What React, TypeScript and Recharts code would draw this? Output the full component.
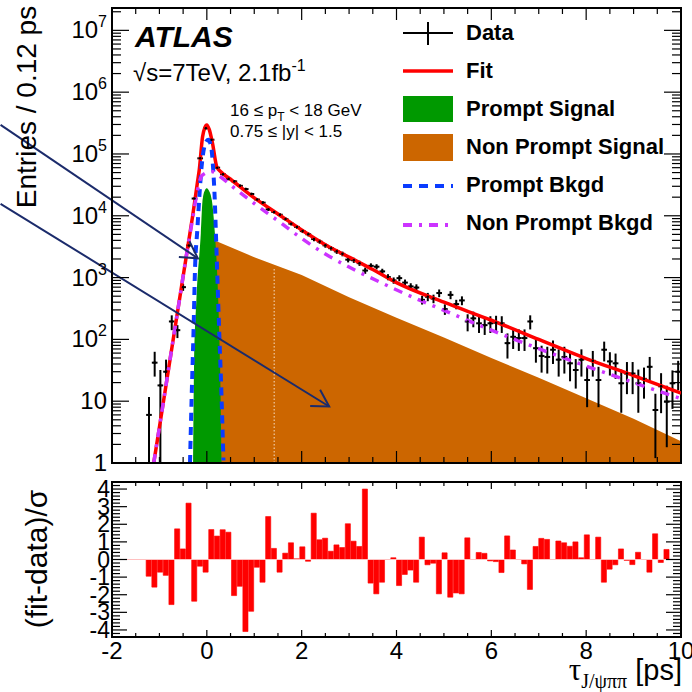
import React from "react";
import {
  ComposedChart,
  BarChart,
  Bar,
  Area,
  Line,
  Scatter,
  ErrorBar,
  XAxis,
  YAxis,
  ReferenceLine,
  ReferenceArea,
} from "recharts";

const FONT = "'Liberation Sans', Arial, Helvetica, sans-serif";
const SERIF = "'Liberation Serif', 'Times New Roman', serif";
const RED = "#ff0000";
const GREEN = "#009900";
const ORANGE = "#cc6600";
const BLUE = "#0a3cff";
const MAGENTA = "#cc33ff";
const NAVY = "#1b2b6b";

// layout
const W = 692;
const LEFT = 112;
const RIGHT = 11;
const PLOT_W = W - LEFT - RIGHT;
const TOP_H = 480;
const TOP_MARGIN = 8;
const TOP_XAXIS = 17;
const TOP_PLOT_H = TOP_H - TOP_MARGIN - TOP_XAXIS;
const BOT_TOP = 470;
const BOT_H = 222;
const BOT_MARGIN = 12;
const BOT_XAXIS = 55;
const BOT_PLOT_H = BOT_H - BOT_MARGIN - BOT_XAXIS;

// binning of the data histogram (0.12 ps bins)
const BIN_FIRST = -1.22;
const BIN_WIDTH = 0.12;

// entries per bin, from the first filled bin (-1.22 ps) to the last (9.94 ps)
const DATA_Y = [
  6, 42, 18, 30, 195, 141, 700,
  3300, 19000, 85000, 260000, 170000, 60000, 47000, 39500, 36000, 30500,
  27000, 22500, 18300, 16300, 12700, 11500, 10400, 8850, 7450, 6600,
  5650, 5020, 4200, 3820, 3320, 2990, 2650, 2420, 1950, 1910,
  1710, 1300, 1550, 1500, 1260, 1020, 900, 980, 830, 720,
  690, 436, 490, 457, 562, 309, 525, 372, 427, 195,
  219, 182, 170, 182, 186, 182, 87, 110, 105, 105,
  195, 72, 54, 52, 68, 47, 52, 41, 32, 47,
  22, 45, 22, 68, 44, 41, 19.5, 28, 28, 19.5,
  23, 36, 7.2, 17.4, 9.8, 19.5, 30,
];

// vertical error per bin ([low, high] where asymmetric)
const DATA_ERR: (number | [number, number])[] = [
  [5, 5.7], [17, 21], [17, 14], [10.5, 17], [54, 50], [36, 29], 90,
  250, 900, 3000, 6000, 5000, 2500, 2000, 1800, 1600, 1400,
  1300, 1100, 900, 800, 700, 650, 600, 550, 500, 450,
  400, 380, 330, 300, 280, 250, 230, 210, 190, 180,
  165, 150, 150, 145, 130, 115, 105, 110, 100, 90,
  88, 70, 75, 72, 80, 60, 78, 65, 70, 60,
  62, 55, 52, 55, 55, 55, 38, 40, 40, 40,
  50, 30, 25, 24, 28, 22, 24, 20, 16, 22,
  14, 20, 14, 24, 18, 18, 13, 15, 15, 13,
  12, 16, 6, 11, 8, 12, 15,
];

// (fit-data)/sigma per bin, same bins as DATA_Y
const RESIDUALS = [
  -0.95, -1.57, -0.72, -0.9, -2.56, 1.74, 0.6,
  3.2, -2.37, -0.38, -0.72, 1.7, 1.33, 1.69, 1.55, -2.05, -1.52,
  -4.09, -2.94, -0.44, -1.29, 2.44, 0.63, -0.72, 0.36, 0.95, 0.04,
  0.72, -0.1, 2.63, 1.12, 1.21, 0.47, 0.83, 0.68, 2.03, 1.04,
  0.74, 4.0, -1.34, -1.95, -1.29, 0, 0.1, -1.48, -0.85, -0.6,
  -1.29, 1.27, -0.3, -0.21, -1.95, 0.38, -2.14, -1.9, -1.95, 1.23,
  0, 0.4, 0.35, -0.08, -0.12, -0.74, 1.34, 0.54, 0, -0.25,
  -1.7, 0.74, 1.2, 1.14, 0, 1.05, 0.95, 0.75, 1.0, 0.1,
  1.4, 0, 1.27, -1.29, -0.55, -0.3, 0.6, -0.05, -0.29, 0.41,
  0, -0.72, 1.46, -0.17, 0.57, 0, 0,
];

// curves [tau, entries]
const FIT_CURVE = [
  [-1.12, 1], [-1.0, 3.8], [-0.8, 36], [-0.6, 340], [-0.4, 3200], [-0.3, 9800],
  [-0.2, 34000], [-0.16, 55000], [-0.09, 190000], [-0.04, 270000], [0.0, 295000],
  [0.05, 250000], [0.12, 148000], [0.21, 62000], [0.3, 51000], [0.5, 39000],
  [1.0, 19500], [1.5, 10700], [2.0, 5900], [2.5, 3400], [3.0, 2140], [3.5, 1350],
  [4.0, 830], [5.0, 400], [6.0, 204], [7.0, 100], [8.0, 49], [9.0, 26], [10.0, 13.5],
];
const PROMPT_SIGNAL = [
  [-0.29, 1], [-0.27, 36], [-0.22, 440], [-0.127, 5200], [-0.09, 18000], [-0.04, 26000],
  [0.0, 28000], [0.04, 26000], [0.105, 18000], [0.17, 5200], [0.24, 440], [0.28, 36], [0.31, 1],
];
const NONPROMPT_SIGNAL = [
  [-0.05, 1], [0.0, 300], [0.08, 2500], [0.155, 4000], [1.0, 2140], [2.0, 1100],
  [3.0, 480], [4.0, 224], [5.0, 107], [6.0, 50], [7.0, 24], [8.0, 11.2], [9.0, 5.2], [10.0, 2.24],
];
const PROMPT_BKGD = [
  [-0.355, 1], [-0.32, 11.7], [-0.28, 141], [-0.25, 1320], [-0.2, 6000], [-0.15, 25000],
  [-0.11, 63000], [-0.05, 132000], [0.03, 170000], [0.09, 132000], [0.13, 63000],
  [0.17, 16000], [0.19, 5600], [0.26, 141], [0.31, 11.7], [0.35, 1.1],
];
const NONPROMPT_BKGD = [
  [-1.12, 1], [-1.0, 3.8], [-0.8, 36], [-0.6, 340], [-0.4, 3200], [-0.3, 8900],
  [-0.2, 25000], [-0.1, 45000], [0.1, 52000], [0.3, 42000], [0.58, 28000], [1.0, 15800],
  [1.5, 8300], [2.0, 4300], [2.5, 2400], [3.0, 1480], [3.7, 810], [4.5, 427], [5.0, 295],
  [6.0, 141], [7.0, 71], [8.0, 37], [9.0, 20], [10.0, 11],
];

// annotation arrows, [tau, entries] of tail and tip
const ARROWS = [
  { from: [-4.35, 295000], to: [-0.19, 2050] },
  { from: [-4.35, 15600], to: [2.58, 8.2] },
];

// axes
const X_DOMAIN = [-2, 10];
const X_TICKS = [
  -2, -1.5, -1, -0.5, 0, 0.5, 1, 1.5, 2, 2.5, 3, 3.5, 4, 4.5, 5, 5.5, 6, 6.5, 7, 7.5, 8, 8.5, 9, 9.5, 10,
];
const X_MAJOR = [-2, 0, 2, 4, 6, 8, 10];
const Y_DOMAIN = [1, 2.3e7];
const DECADES = [1, 10, 100, 1e3, 1e4, 1e5, 1e6, 1e7];
const MANTISSAS = [2, 3, 4, 5, 6, 7, 8, 9];
const Y_TICKS = DECADES.flatMap((d) => [d, ...MANTISSAS.map((m) => m * d)]).filter((v) => v <= Y_DOMAIN[1]);
const RES_DOMAIN = [-4.4, 4.4];
const RES_TICKS = Array.from({ length: 45 }, (_, i) => +(-4.4 + i * 0.2).toFixed(1));

const LEGEND = [
  { label: "Data", kind: "data" },
  { label: "Fit", kind: "fit" },
  { label: "Prompt Signal", kind: "green" },
  { label: "Non Prompt Signal", kind: "orange" },
  { label: "Prompt Bkgd", kind: "blue" },
  { label: "Non Prompt Bkgd", kind: "magenta" },
];

const dataRows = DATA_Y.map((y, i) => ({
  x: +(BIN_FIRST + i * BIN_WIDTH).toFixed(2),
  y,
  ey: DATA_ERR[i],
  ex: BIN_WIDTH / 2,
}));
const resRows = RESIDUALS.map((r, i) => ({ x: +(BIN_FIRST + i * BIN_WIDTH).toFixed(2), r }));
const rows = (pts: number[][]) => pts.map(([x, y]) => ({ x, y }));

const TopXTick = (props: any) => {
  const { x, y, payload } = props;
  const len = X_MAJOR.includes(payload.value) ? 12 : 6;
  return (
    <g stroke="#000" strokeWidth={1.2}>
      <line x1={x} x2={x} y1={y} y2={y - len} />
      <line x1={x} x2={x} y1={y - TOP_PLOT_H} y2={y - TOP_PLOT_H + len} />
    </g>
  );
};

const LogYTick = (props: any) => {
  const { x, y, payload } = props;
  const v = payload.value;
  const major = DECADES.includes(v);
  const len = major ? 17 : 9;
  const exp = Math.round(Math.log10(v));
  return (
    <g>
      <line x1={x} x2={x + len} y1={y} y2={y} stroke="#000" strokeWidth={1.2} />
      <line x1={x + PLOT_W} x2={x + PLOT_W - len} y1={y} y2={y} stroke="#000" strokeWidth={1.2} />
      {major && (
        <text x={x - 5} y={y + 8} textAnchor="end" fontSize={24} fontFamily={FONT} fill="#000">
          {exp === 0 ? "1" : exp === 1 ? "10" : (
            <>
              10
              <tspan dy={-11} fontSize={16}>{exp}</tspan>
            </>
          )}
        </text>
      )}
    </g>
  );
};

const BotXTick = (props: any) => {
  const { x, y, payload } = props;
  const major = X_MAJOR.includes(payload.value);
  const len = major ? 7 : 4;
  return (
    <g>
      <line x1={x} x2={x} y1={y} y2={y - len} stroke="#000" strokeWidth={1.2} />
      <line x1={x} x2={x} y1={y - BOT_PLOT_H} y2={y - BOT_PLOT_H + len} stroke="#000" strokeWidth={1.2} />
      {major && (
        <text x={x} y={y + 22} textAnchor="middle" fontSize={24} fontFamily={FONT} fill="#000">
          {payload.value}
        </text>
      )}
    </g>
  );
};

const ResYTick = (props: any) => {
  const { x, y, payload } = props;
  const major = Number.isInteger(payload.value);
  const len = major ? 15 : 8;
  return (
    <g>
      <line x1={x} x2={x + len} y1={y} y2={y} stroke="#000" strokeWidth={1.2} />
      <line x1={x + PLOT_W} x2={x + PLOT_W - len} y1={y} y2={y} stroke="#000" strokeWidth={1.2} />
      {major && (
        <text x={x - 2} y={y + 8} textAnchor="end" fontSize={23} fontFamily={FONT} fill="#000">
          {payload.value}
        </text>
      )}
    </g>
  );
};

const ArrowShape = (props: any) => {
  const { x1, y1, x2, y2 } = props;
  const a = Math.atan2(y2 - y1, x2 - x1);
  const L = 19;
  const s = 0.52;
  const p1 = `${x2 - L * Math.cos(a - s)},${y2 - L * Math.sin(a - s)}`;
  const p2 = `${x2 - L * Math.cos(a + s)},${y2 - L * Math.sin(a + s)}`;
  return (
    <g stroke={NAVY} strokeWidth={2} fill="none">
      <line x1={x1} y1={y1} x2={x2} y2={y2} />
      <polyline points={`${p1} ${x2},${y2} ${p2}`} />
    </g>
  );
};

const dotShape = (p: any) => <circle cx={p.cx} cy={p.cy} r={1.3} fill="#000" />;

const Legend = () => (
  <g>
    {LEGEND.map((e, i) => {
      const base = 40 + i * 38;
      const cy = base - 7;
      let sym: React.ReactNode = null;
      if (e.kind === "data")
        sym = (
          <g stroke="#000" strokeWidth={2}>
            <line x1={403} x2={453} y1={cy} y2={cy} />
            <line x1={428} x2={428} y1={cy - 11} y2={cy + 12} />
          </g>
        );
      if (e.kind === "fit") sym = <line x1={403} x2={453} y1={cy} y2={cy} stroke={RED} strokeWidth={3.5} />;
      if (e.kind === "green") sym = <rect x={403} y={cy - 13} width={50} height={26} fill={GREEN} />;
      if (e.kind === "orange") sym = <rect x={403} y={cy - 13} width={50} height={27} fill={ORANGE} />;
      if (e.kind === "blue")
        sym = <line x1={403} x2={453} y1={cy + 1} y2={cy + 1} stroke={BLUE} strokeWidth={4} strokeDasharray="9 7" />;
      if (e.kind === "magenta")
        sym = (
          <line x1={403} x2={453} y1={cy + 2} y2={cy + 2} stroke={MAGENTA} strokeWidth={4} strokeDasharray="9 7 3 7" />
        );
      return (
        <g key={e.label}>
          {sym}
          <text x={466} y={base} fontSize={22} fontWeight="bold" fontFamily={FONT} fill="#000">
            {e.label}
          </text>
        </g>
      );
    })}
  </g>
);

export default function App() {
  return (
    <div style={{ position: "absolute", left: 0, top: 0, width: W, height: 692, background: "#fff", overflow: "hidden" }}>
      <div style={{ position: "absolute", left: 0, top: 0 }}>
        <ComposedChart width={W} height={TOP_H} margin={{ top: TOP_MARGIN, right: RIGHT, bottom: 0, left: 0 }}>
          <XAxis
            dataKey="x"
            type="number"
            domain={X_DOMAIN}
            allowDataOverflow
            ticks={X_TICKS}
            interval={0}
            height={TOP_XAXIS}
            tickSize={0}
            tickMargin={0}
            tickLine={false}
            axisLine={{ stroke: "#000", strokeWidth: 2 }}
            tick={<TopXTick />}
          />
          <YAxis
            type="number"
            scale="log"
            domain={Y_DOMAIN}
            allowDataOverflow
            ticks={Y_TICKS}
            interval={0}
            width={LEFT}
            tickSize={0}
            tickMargin={0}
            tickLine={false}
            axisLine={{ stroke: "#000", strokeWidth: 2 }}
            tick={<LogYTick />}
          />
          <Area
            data={rows(NONPROMPT_SIGNAL)}
            dataKey="y"
            type="linear"
            baseValue={1}
            stroke="none"
            fill={ORANGE}
            fillOpacity={1}
            isAnimationActive={false}
          />
          <ReferenceLine
            segment={[{ x: 1.42, y: 1 }, { x: 1.42, y: 1450 }]}
            stroke="#f6e0c8"
            strokeWidth={1}
            strokeDasharray="1.5 2"
          />
          <Area
            data={rows(PROMPT_SIGNAL)}
            dataKey="y"
            type="monotone"
            baseValue={1}
            stroke="none"
            fill={GREEN}
            fillOpacity={1}
            isAnimationActive={false}
          />
          <Scatter data={dataRows} dataKey="y" fill="#000" shape={dotShape} isAnimationActive={false}>
            <ErrorBar dataKey="ey" direction="y" width={0} stroke="#000" strokeWidth={2} />
            <ErrorBar dataKey="ex" direction="x" width={0} stroke="#000" strokeWidth={2} />
          </Scatter>
          <Line
            data={rows(FIT_CURVE)}
            dataKey="y"
            type="monotone"
            dot={false}
            stroke={RED}
            strokeWidth={3.5}
            isAnimationActive={false}
          />
          <Line
            data={rows(PROMPT_BKGD)}
            dataKey="y"
            type="monotone"
            dot={false}
            stroke={BLUE}
            strokeWidth={4}
            strokeDasharray="8 6"
            isAnimationActive={false}
          />
          <Line
            data={rows(NONPROMPT_BKGD)}
            dataKey="y"
            type="monotone"
            dot={false}
            stroke={MAGENTA}
            strokeWidth={3.5}
            strokeDasharray="9 7 3 7"
            isAnimationActive={false}
          />
          {ARROWS.map((a, i) => (
            <ReferenceLine
              key={i}
              segment={[{ x: a.from[0], y: a.from[1] }, { x: a.to[0], y: a.to[1] }]}
              ifOverflow="visible"
              shape={ArrowShape}
            />
          ))}
          <ReferenceArea
            x1={X_DOMAIN[0]}
            x2={X_DOMAIN[1]}
            y1={Y_DOMAIN[0]}
            y2={Y_DOMAIN[1]}
            fill="none"
            stroke="#000"
            strokeWidth={2}
          />
        </ComposedChart>
      </div>
      <div style={{ position: "absolute", left: 0, top: BOT_TOP }}>
        <BarChart width={W} height={BOT_H} data={resRows} margin={{ top: BOT_MARGIN, right: RIGHT, bottom: 0, left: 0 }}>
          <XAxis
            dataKey="x"
            type="number"
            domain={X_DOMAIN}
            allowDataOverflow
            ticks={X_TICKS}
            interval={0}
            height={BOT_XAXIS}
            tickSize={0}
            tickMargin={0}
            tickLine={false}
            axisLine={{ stroke: "#000", strokeWidth: 2 }}
            tick={<BotXTick />}
          />
          <YAxis
            type="number"
            domain={RES_DOMAIN}
            allowDataOverflow
            ticks={RES_TICKS}
            interval={0}
            width={LEFT}
            tickSize={0}
            tickMargin={0}
            tickLine={false}
            axisLine={{ stroke: "#000", strokeWidth: 2 }}
            tick={<ResYTick />}
          />
          <ReferenceLine y={0} stroke="#ffc0c0" strokeWidth={1} />
          <Bar
            dataKey="r"
            fill={RED}
            stroke={RED}
            strokeWidth={0.6}
            barSize={(PLOT_W * BIN_WIDTH) / 12}
            isAnimationActive={false}
          />
          <ReferenceArea
            x1={X_DOMAIN[0]}
            x2={X_DOMAIN[1]}
            y1={RES_DOMAIN[0]}
            y2={RES_DOMAIN[1]}
            fill="none"
            stroke="#000"
            strokeWidth={2}
          />
        </BarChart>
      </div>
      <svg
        width={W}
        height={692}
        style={{ position: "absolute", left: 0, top: 0, pointerEvents: "none" }}
        fontFamily={FONT}
      >
        <text x={36} y={107} transform="rotate(-90 36 107)" textAnchor="middle" fontSize={28} fill="#000">
          Entries / 0.12 ps
        </text>
        <text x={47} y={559} transform="rotate(-90 47 559)" textAnchor="middle" fontSize={30} fill="#000">
          (fit-data)/σ
        </text>
        <text x={135} y={47} fontSize={30} fontWeight="bold" fontStyle="italic" fill="#000">
          ATLAS
        </text>
        <text x={133} y={81} fontSize={24} fill="#000">
          √s=7TeV, 2.1fb<tspan dy={-10} fontSize={16}>-1</tspan>
        </text>
        <text x={230} y={116} fontSize={17} fill="#000">
          16 ≤ p<tspan dy={5} fontSize={12}>T</tspan>
          <tspan dy={-5}> &lt; 18 GeV</tspan>
        </text>
        <text x={230} y={137} fontSize={17} fill="#000">
          0.75 ≤ |y| &lt; 1.5
        </text>
        <text x={682} y={680} textAnchor="end" fontSize={29} fill="#000">
          <tspan fontFamily={SERIF} fontSize={31}>τ</tspan>
          <tspan dy={8} fontSize={20} fontFamily={SERIF}>J/ψππ</tspan>
          <tspan dy={-8}> [ps]</tspan>
        </text>
        <Legend />
      </svg>
    </div>
  );
}
